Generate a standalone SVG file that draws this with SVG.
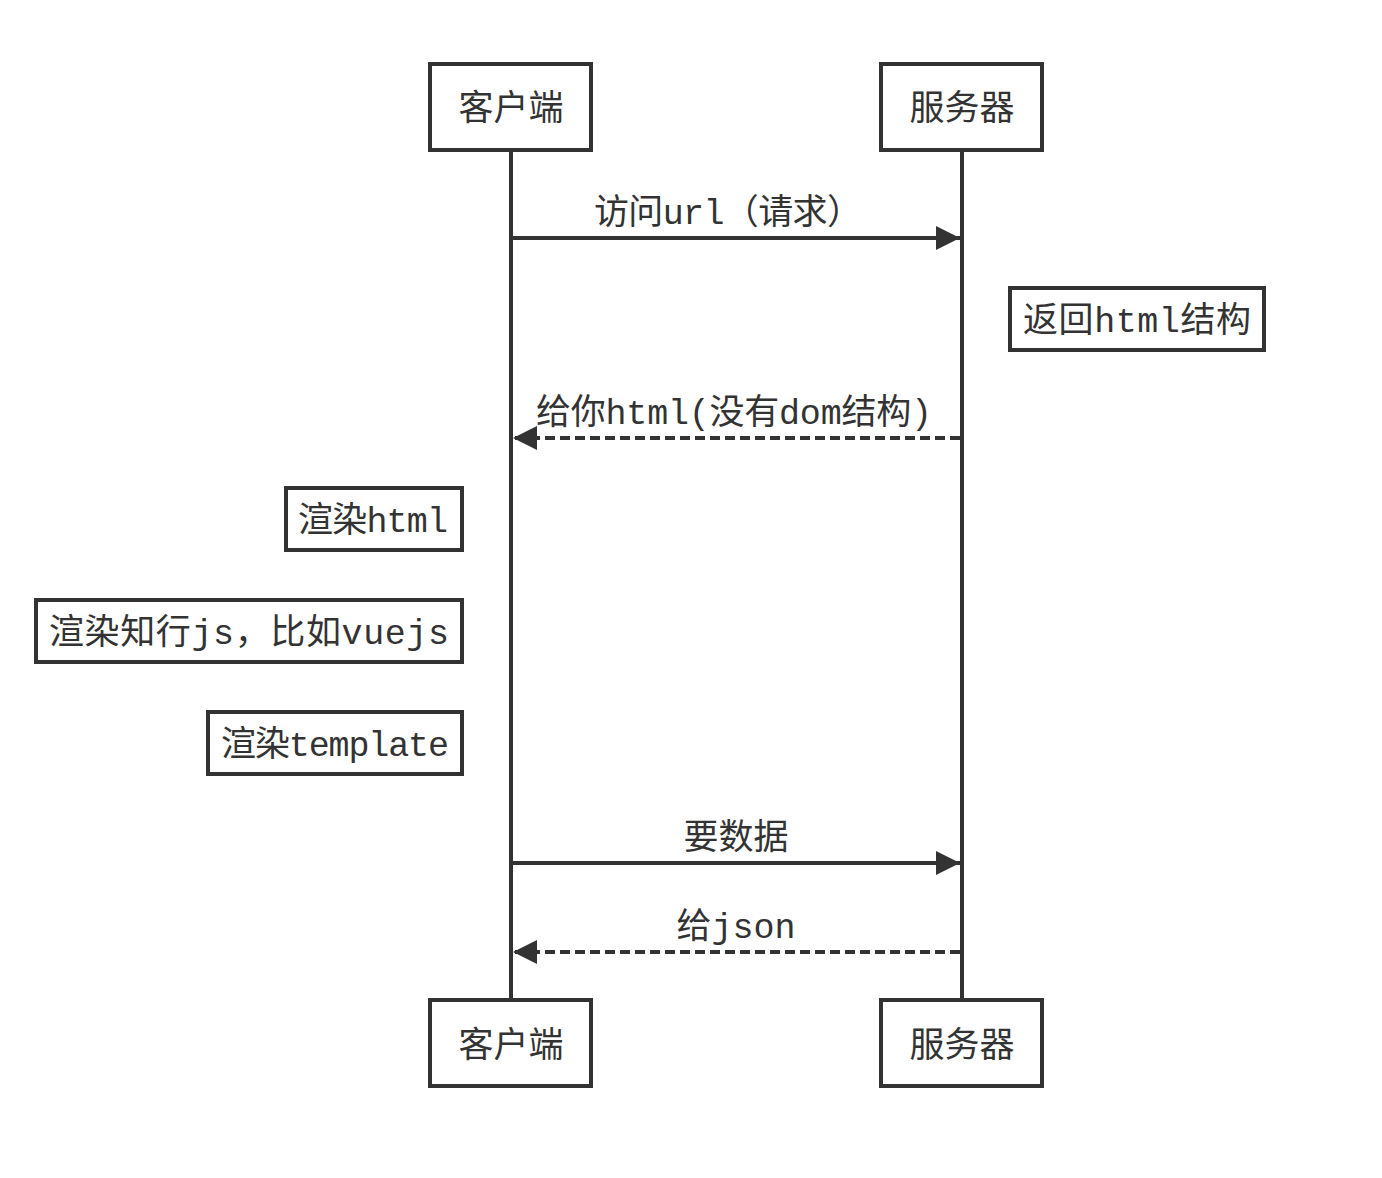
<svg xmlns="http://www.w3.org/2000/svg" width="1382" height="1178" viewBox="0 0 1382 1178">
<defs>
<style>
.box{fill:#fff;stroke:#333;stroke-width:4}
.life{stroke:#333;stroke-width:4;fill:none}
.msg{stroke:#333;stroke-width:4;fill:none}
.dash{stroke-dasharray:10 5}
text{font-family:"Liberation Mono","Noto Sans CJK SC",monospace;font-size:35px;fill:#333;text-anchor:middle}
</style>
<marker id="ah" viewBox="0 0 24 24" refX="24" refY="12" markerWidth="24" markerHeight="24" markerUnits="userSpaceOnUse" orient="auto">
<path d="M0,0 L24,12 L0,24 Z" fill="#333"/>
</marker>
</defs>
<rect width="1382" height="1178" fill="#fff"/>
<g id="connectors">
<line class="life" x1="511" y1="151" x2="511" y2="998"/>
<line class="life" x1="962" y1="151" x2="962" y2="998"/>
<line class="msg" x1="511" y1="238" x2="960" y2="238" marker-end="url(#ah)"/>
<line class="msg dash" x1="960" y1="438" x2="513" y2="438" marker-end="url(#ah)"/>
<line class="msg" x1="511" y1="863" x2="960" y2="863" marker-end="url(#ah)"/>
<line class="msg dash" x1="960" y1="952" x2="513" y2="952" marker-end="url(#ah)"/>
<text x="728" y="224" textLength="268">访问url（请求）</text>
<text x="734" y="424" textLength="396">给你html(没有dom结构)</text>
<text x="736" y="849">要数据</text>
<text x="736" y="938">给json</text>
</g>
<g id="client-top"><rect class="box" x="430" y="64" width="161" height="86"/><text x="511" y="120">客户端</text></g>
<g id="server-top"><rect class="box" x="881" y="64" width="161" height="86"/><text x="962" y="120">服务器</text></g>
<g id="note-return"><rect class="box" x="1010" y="288" width="254" height="62"/><text x="1137" y="332" textLength="228">返回html结构</text></g>
<g id="note-render-html"><rect class="box" x="286" y="488" width="176" height="62"/><text x="373" y="532" textLength="150">渲染html</text></g>
<g id="note-render-js"><rect class="box" x="36" y="600" width="426" height="62"/><text x="249" y="644" textLength="400">渲染知行js，比如vuejs</text></g>
<g id="note-render-template"><rect class="box" x="208" y="712" width="254" height="62"/><text x="335" y="756" textLength="228">渲染template</text></g>
<g id="client-bottom"><rect class="box" x="430" y="1000" width="161" height="86"/><text x="511" y="1057">客户端</text></g>
<g id="server-bottom"><rect class="box" x="881" y="1000" width="161" height="86"/><text x="962" y="1057">服务器</text></g>
</svg>
